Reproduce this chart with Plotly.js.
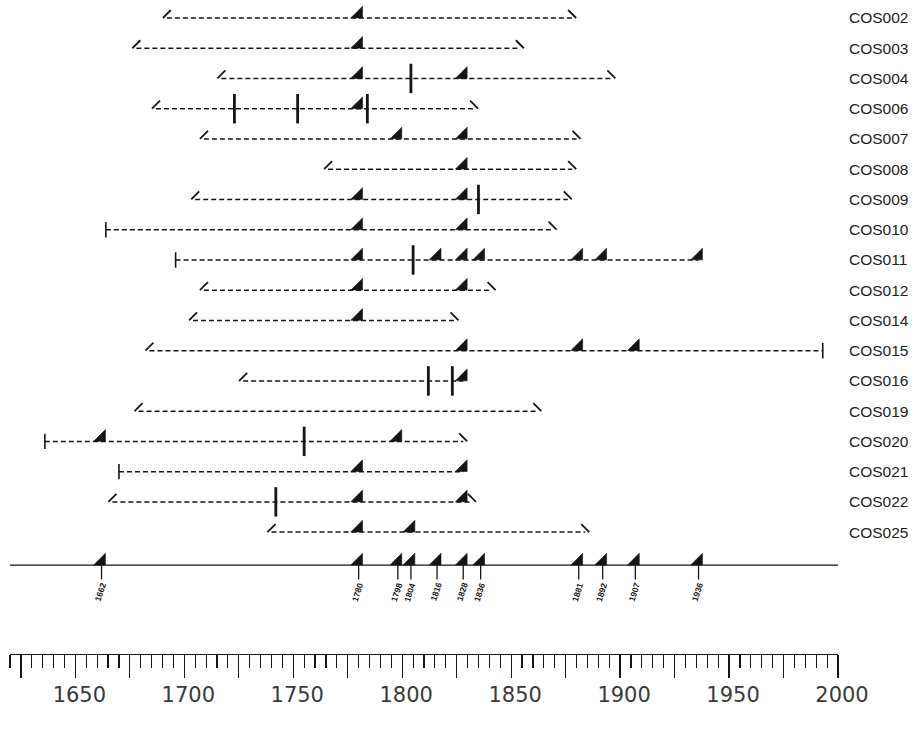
<!DOCTYPE html>
<html>
<head>
<meta charset="utf-8">
<script src="https://cdn.plot.ly/plotly-3.0.1.min.js"></script>
<style>html,body{margin:0;padding:0;background:#fff;}#chart{width:918px;height:730px;}</style>
</head>
<body>
<div id="chart"></div>
<script>
// ---------- data ----------
const samples   = ['COS002','COS003','COS004','COS006','COS007','COS008','COS009','COS010','COS011','COS012','COS014','COS015','COS016','COS019','COS020','COS021','COS022','COS025'];
const firstYear = [1692,1678,1717,1687,1709,1766,1705,1664,1696,1709,1704,1684,1727,1679,1636,1670,1667,1740];
const lastYear  = [1878,1854,1896,1833,1880,1878,1876,1869,1936,1841,1824,1993,1828,1862,1828,1828,1832,1884];
// 'pith' = pith present, 'inner' = inner ring
const startType = ['inner','inner','inner','inner','inner','inner','inner','pith','pith','inner','inner','inner','inner','inner','pith','pith','inner','inner'];
// 'outer' = outer ring, 'bark' = bark, 'scar' = ends on a scar
const endType   = ['outer','outer','outer','outer','outer','outer','outer','outer','scar','outer','outer','bark','scar','outer','outer','scar','outer','outer'];
const fireScars = [
  [1780],[1780],[1780,1828],[1780],[1798,1828],[1828],[1780,1828],[1780,1828],
  [1780,1816,1828,1836,1881,1892,1936],[1780,1828],[1780],[1828,1881,1907],[1828],[],
  [1662,1798],[1780,1828],[1780,1828],[1780,1804]
];
const injuries = [
  [],[],[1804],[1723,1752,1784],[],[],[1835],[],[1805],[],[],[],[1812,1823],[],[1755],[],[1742],[]
];
const compositeYears = [1662,1780,1798,1804,1816,1828,1836,1881,1892,1907,1936];
const yearRange = [1620, 2000];
const rulerMajor = [1625,1650,1675,1700,1725,1750,1775,1800,1825,1850,1875,1900,1925,1950,1975,2000];
const rulerLabels = ['','1650','','1700','','1750','','1800','','1850','','1900','','1950','','2000'];

// ---------- geometry helpers (styling only) ----------
const PLOT_H = 654;
const Y_TOP = -0.595, Y_BOTTOM = 21.03;
const pxPerRow = PLOT_H / (Y_BOTTOM - Y_TOP);
const compositeRow = 18.09;
function shifted(px){ const d = px / pxPerRow; return [Y_BOTTOM + d, Y_TOP + d]; }

const INK = '#151515';
const traces = [];

// dashed record lines
const lx = [], ly = [];
samples.forEach((s,i)=>{ lx.push(firstYear[i], lastYear[i], null); ly.push(i, i, null); });
traces.push({x:lx, y:ly, mode:'lines', line:{color:INK, width:1.5, dash:'5px,3px'}, hoverinfo:'skip'});

// composite baseline
traces.push({x:yearRange, y:[compositeRow, compositeRow], mode:'lines', line:{color:INK, width:1.3}, hoverinfo:'skip'});

// inner-ring starts
const inX=[], inY=[], piX=[], piY=[];
samples.forEach((s,i)=>{ if(startType[i]==='pith'){piX.push(firstYear[i]);piY.push(i);} else {inX.push(firstYear[i]);inY.push(i);} });
traces.push({x:inX, y:inY, yaxis:'y2', mode:'markers', marker:{symbol:'line-ne', size:8, line:{color:INK, width:1.8}}, hoverinfo:'skip'});
traces.push({x:piX, y:piY, mode:'markers', marker:{symbol:'line-ns', size:11, line:{color:INK, width:1.6}}, hoverinfo:'skip'});

// ends
const ouX=[], ouY=[], baX=[], baY=[];
samples.forEach((s,i)=>{ if(endType[i]==='outer'){ouX.push(lastYear[i]);ouY.push(i);} else if(endType[i]==='bark'){baX.push(lastYear[i]);baY.push(i);} });
traces.push({x:ouX, y:ouY, yaxis:'y2', mode:'markers', marker:{symbol:'line-nw', size:8, line:{color:INK, width:1.8}}, hoverinfo:'skip'});
traces.push({x:baX, y:baY, mode:'markers', marker:{symbol:'line-ns', size:11, line:{color:INK, width:1.6}}, hoverinfo:'skip'});

// injuries (thick bars)
const ijX=[], ijY=[];
injuries.forEach((arr,i)=>arr.forEach(yr=>{ijX.push(yr); ijY.push(i);}));
traces.push({x:ijX, y:ijY, mode:'markers', marker:{symbol:'line-ns', size:21, line:{color:INK, width:2.8}}, hoverinfo:'skip'});

// fire scars
const fsX=[], fsY=[];
fireScars.forEach((arr,i)=>arr.forEach(yr=>{fsX.push(yr); fsY.push(i);}));
compositeYears.forEach(yr=>{fsX.push(yr); fsY.push(compositeRow);});
traces.push({x:fsX, y:fsY, yaxis:'y2', mode:'markers', marker:{symbol:'triangle-se', size:13, color:INK, line:{width:0.6, color:INK}}, hoverinfo:'skip'});

// composite ticks below baseline
traces.push({x:compositeYears, y:compositeYears.map(()=>compositeRow), yaxis:'y3', mode:'markers', marker:{symbol:'line-ns', size:12, line:{color:INK, width:1.3}}, hoverinfo:'skip'});

const annotations = compositeYears.map(yr=>({
  x: yr, y: compositeRow, xref:'x', yref:'y', text: '<b>' + String(yr) + '</b>', showarrow:false,
  textangle: -72, yshift: -27, xshift: -1, font:{family:'Liberation Sans, Arial, sans-serif', size:8.5, color:INK}
}));

const layout = {
  width: 918, height: 730,
  margin: {l:10, r:80, t:0, b:76, pad:0},
  paper_bgcolor:'#fff', plot_bgcolor:'#fff',
  showlegend:false, hovermode:false,
  font:{family:'Liberation Sans, Arial, sans-serif', color:INK},
  xaxis:{
    range: yearRange, showgrid:false, zeroline:false,
    showline:true, linecolor:INK, linewidth:1.3,
    tickmode:'array', tickvals: rulerMajor, ticktext: rulerLabels,
    ticks:'outside', ticklen:23, tickwidth:1.3, tickcolor:INK,
    ticklabelshift: 4, ticklabelstandoff: -2,
    tickfont:{family:'DejaVu Sans, sans-serif', size:21, color:'#3a3a3a'},
    minor:{tickmode:'linear', tick0:1620, dtick:5, ticks:'outside', ticklen:13, tickwidth:1.2, tickcolor:INK, showgrid:false}
  },
  yaxis:{
    range:[Y_BOTTOM, Y_TOP], showgrid:false, zeroline:false, showline:false,
    side:'right', tickmode:'array', tickvals: samples.map((s,i)=>i), ticktext: samples,
    ticks:'', ticklabelstandoff: 10,
    tickfont:{family:'Liberation Sans, Arial, sans-serif', size:15.5, color:'#222'}
  },
  yaxis2:{overlaying:'y', range: shifted(4), visible:false, showgrid:false, zeroline:false},
  yaxis3:{overlaying:'y', range: shifted(-6), visible:false, showgrid:false, zeroline:false},
  annotations: annotations
};

Plotly.newPlot('chart', traces, layout, {staticPlot:true, displayModeBar:false});
</script>
</body>
</html>
